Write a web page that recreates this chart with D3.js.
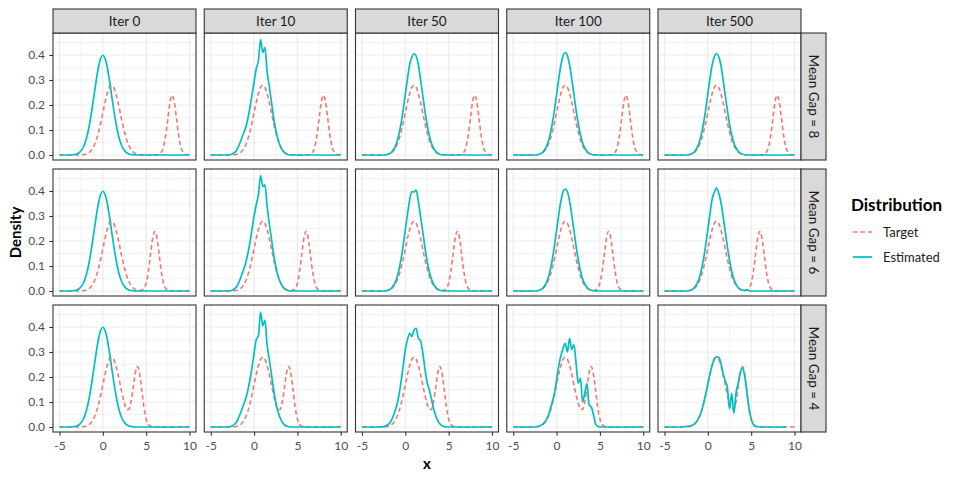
<!DOCTYPE html>
<html>
  <head>
    <meta charset="utf-8">
    <style type="text/css">
      body { margin: 0; background: #fff; }
      text { font-family: Lato, "Open Sans", sans-serif; }
    </style>
  </head>
  <body>
    <div id="chart"></div>
    <script src="https://d3js.org/d3.v7.min.js"></script>
    <script>
      // evaluation grid, x from -5 to 10 in steps of 0.25
      const xGrid = [
        -5, -4.75, -4.5, -4.25, -4, -3.75, -3.5, -3.25, -3, -2.75, -2.5, -2.25,
        -2, -1.75, -1.5, -1.25, -1, -0.75, -0.5, -0.25, 0, 0.25, 0.5, 0.75,
        1, 1.25, 1.5, 1.75, 2, 2.25, 2.5, 2.75, 3, 3.25, 3.5, 3.75,
        4, 4.25, 4.5, 4.75, 5, 5.25, 5.5, 5.75, 6, 6.25, 6.5, 6.75,
        7, 7.25, 7.5, 7.75, 8, 8.25, 8.5, 8.75, 9, 9.25, 9.5, 9.75, 10
      ];

      const iterLabels = ["Iter 0", "Iter 10", "Iter 50", "Iter 100", "Iter 500"];
      const gapLabels = ["Mean Gap = 8", "Mean Gap = 6", "Mean Gap = 4"];
      const seriesNames = ["Target", "Estimated"];
      const xTicks = [-5, 0, 5, 10];
      const yTicks = [0, 0.1, 0.2, 0.3, 0.4];

      // target densities (one per row)
      const targetGap8 = [
        0, 0, 0, 0,  0, 0, 0, 0,  0, 0, 0.001, 0.001,
        0.003, 0.006, 0.012, 0.022,  0.038, 0.060, 0.091, 0.128,
        0.169, 0.211, 0.246, 0.271,  0.279, 0.271, 0.246, 0.211,
        0.169, 0.128, 0.091, 0.060,  0.038, 0.022, 0.012, 0.006,
        0.003, 0.001, 0.001, 0,  0, 0, 0, 0,
        0, 0.001, 0.003, 0.011,  0.032, 0.078, 0.145, 0.211,
        0.239, 0.211, 0.145, 0.078,  0.032, 0.011, 0.003, 0.001,  0
      ];
      const targetGap6 = [
        0, 0, 0, 0,  0, 0, 0, 0,  0, 0, 0.001, 0.001,
        0.003, 0.006, 0.012, 0.022,  0.038, 0.060, 0.091, 0.128,
        0.169, 0.211, 0.246, 0.271,  0.279, 0.271, 0.246, 0.211,
        0.169, 0.128, 0.091, 0.060,  0.038, 0.022, 0.012, 0.006,
        0.003, 0.002, 0.004, 0.011,  0.032, 0.078, 0.145, 0.211,
        0.239, 0.211, 0.145, 0.078,  0.032, 0.011, 0.003, 0.001,
        0, 0, 0, 0,  0, 0, 0, 0,  0
      ];
      const targetGap4 = [
        0, 0, 0, 0,  0, 0, 0, 0,  0, 0, 0.001, 0.001,
        0.003, 0.006, 0.012, 0.022,  0.038, 0.060, 0.091, 0.128,
        0.169, 0.211, 0.246, 0.271,  0.279, 0.271, 0.246, 0.211,
        0.169, 0.129, 0.094, 0.071,  0.070, 0.100, 0.157, 0.217,
        0.242, 0.212, 0.146, 0.078,  0.032, 0.011, 0.003, 0.001,
        0, 0, 0, 0,  0, 0, 0, 0,  0, 0, 0, 0,  0, 0, 0, 0,  0
      ];

      // estimated densities
      const estIter0 = [
        0, 0, 0, 0,  0, 0, 0.001, 0.002,  0.004, 0.009, 0.018, 0.032,
        0.054, 0.086, 0.130, 0.183,  0.242, 0.301, 0.352, 0.387,
        0.399, 0.387, 0.352, 0.301,  0.242, 0.183, 0.130, 0.086,
        0.054, 0.032, 0.018, 0.009,  0.004, 0.002, 0.001, 0,
        0, 0, 0, 0,  0, 0, 0, 0,  0, 0, 0, 0,
        0, 0, 0, 0,  0, 0, 0, 0,  0, 0, 0, 0,  0
      ];
      const estGap8Iter10 = [
        0, 0, 0, 0,  0, 0, 0, 0,  0, 0.001, 0.005, 0.010,
        0.020, 0.038, 0.060, 0.084,  0.106, 0.140, 0.186, 0.238,
        0.292, 0.345, 0.378, 0.462,  0.410, 0.430, 0.335, 0.276,
        0.214, 0.150, 0.100, 0.064,  0.038, 0.020, 0.010, 0.004,
        0.001, 0, 0, 0,  0, 0, 0, 0,  0, 0, 0, 0,
        0, 0, 0, 0,  0, 0, 0, 0,  0, 0, 0, 0,  0
      ];
      const estGap8Iter50 = [
        0, 0, 0, 0,  0, 0, 0, 0,  0, 0, 0, 0.001,
        0.003, 0.007, 0.015, 0.028,  0.049, 0.081, 0.125, 0.180,
        0.243, 0.306, 0.362, 0.392,  0.405, 0.396, 0.362, 0.303,
        0.242, 0.178, 0.124, 0.080,  0.048, 0.028, 0.015, 0.007,
        0.003, 0.001, 0, 0,  0, 0, 0, 0,  0, 0, 0, 0,
        0, 0, 0, 0,  0, 0, 0, 0,  0, 0, 0, 0,  0
      ];
      const estGap8Iter100 = [
        0, 0, 0, 0,  0, 0, 0, 0,  0, 0, 0, 0.001,
        0.003, 0.007, 0.015, 0.028,  0.049, 0.081, 0.125, 0.179,
        0.242, 0.305, 0.360, 0.398,  0.410, 0.398, 0.360, 0.305,
        0.242, 0.179, 0.125, 0.081,  0.049, 0.028, 0.015, 0.007,
        0.003, 0.001, 0, 0,  0, 0, 0, 0,  0, 0, 0, 0,
        0, 0, 0, 0,  0, 0, 0, 0,  0, 0, 0, 0,  0
      ];
      const estGap8Iter500 = [
        0, 0, 0, 0,  0, 0, 0, 0,  0, 0, 0, 0.001,
        0.003, 0.007, 0.015, 0.029,  0.050, 0.082, 0.126, 0.181,
        0.245, 0.307, 0.361, 0.393,  0.406, 0.394, 0.361, 0.304,
        0.241, 0.180, 0.124, 0.081,  0.049, 0.028, 0.015, 0.007,
        0.003, 0.001, 0, 0,  0, 0, 0, 0,  0, 0, 0, 0,
        0, 0, 0, 0,  0, 0, 0, 0,  0, 0, 0, 0,  0
      ];
      const estGap6Iter10 = [
        0, 0, 0, 0,  0, 0, 0, 0,  0, 0.001, 0.004, 0.009,
        0.018, 0.035, 0.058, 0.082,  0.108, 0.145, 0.190, 0.245,
        0.300, 0.345, 0.385, 0.462,  0.418, 0.425, 0.340, 0.270,
        0.210, 0.148, 0.098, 0.062,  0.037, 0.020, 0.009, 0.004,
        0.001, 0, 0, 0,  0, 0, 0, 0,  0, 0, 0, 0,
        0, 0, 0, 0,  0, 0, 0, 0,  0, 0, 0, 0,  0
      ];
      const estGap6Iter50 = [
        0, 0, 0, 0,  0, 0, 0, 0,  0, 0, 0, 0.001,
        0.003, 0.007, 0.016, 0.029,  0.050, 0.082, 0.127, 0.182,
        0.246, 0.308, 0.365, 0.398,  0.396, 0.404, 0.358, 0.300,
        0.240, 0.177, 0.123, 0.080,  0.049, 0.028, 0.015, 0.007,
        0.003, 0.001, 0, 0,  0, 0, 0, 0,  0, 0, 0, 0,
        0, 0, 0, 0,  0, 0, 0, 0,  0, 0, 0, 0,  0
      ];
      const estGap6Iter100 = [
        0, 0, 0, 0,  0, 0, 0, 0,  0, 0, 0, 0.001,
        0.003, 0.007, 0.015, 0.028,  0.049, 0.081, 0.125, 0.180,
        0.243, 0.306, 0.361, 0.397,  0.408, 0.397, 0.360, 0.304,
        0.242, 0.179, 0.125, 0.081,  0.049, 0.028, 0.015, 0.007,
        0.003, 0.001, 0, 0,  0, 0, 0, 0,  0, 0, 0, 0,
        0, 0, 0, 0,  0, 0, 0, 0,  0, 0, 0, 0,  0
      ];
      const estGap6Iter500 = [
        0, 0, 0, 0,  0, 0, 0, 0,  0, 0, 0, 0.001,
        0.003, 0.007, 0.016, 0.030,  0.051, 0.083, 0.128, 0.183,
        0.246, 0.310, 0.368, 0.395,  0.412, 0.392, 0.356, 0.302,
        0.240, 0.178, 0.124, 0.080,  0.048, 0.027, 0.014, 0.007,
        0.004, 0.002, 0.005, 0.001,  0, 0, 0, 0,  0, 0, 0, 0,
        0, 0, 0, 0,  0, 0, 0, 0,  0, 0, 0, 0,  0
      ];
      const estGap4Iter10 = [
        0, 0, 0, 0,  0, 0, 0, 0,  0, 0.001, 0.005, 0.011,
        0.021, 0.040, 0.062, 0.086,  0.110, 0.142, 0.185, 0.236,
        0.295, 0.350, 0.365, 0.460,  0.405, 0.428, 0.330, 0.272,
        0.212, 0.150, 0.098, 0.063,  0.037, 0.019, 0.009, 0.004,
        0.001, 0, 0, 0,  0, 0, 0, 0,  0, 0, 0, 0,
        0, 0, 0, 0,  0, 0, 0, 0,  0, 0, 0, 0,  0
      ];
      const estGap4Iter50 = [
        0, 0, 0, 0,  0, 0, 0, 0,  0, 0, 0.002, 0.005,
        0.010, 0.018, 0.035, 0.058,  0.085, 0.125, 0.180, 0.245,
        0.310, 0.350, 0.375, 0.362,  0.388, 0.395, 0.355, 0.345,
        0.300, 0.235, 0.180, 0.150,  0.115, 0.075, 0.045, 0.025,
        0.012, 0.005, 0.002, 0,  0, 0, 0, 0,  0, 0, 0, 0,
        0, 0, 0, 0,  0, 0, 0, 0,  0, 0, 0, 0,  0
      ];
      const estGap4Iter100 = [
        0, 0, 0, 0,  0, 0, 0, 0,  0, 0, 0, 0.002,
        0.004, 0.008, 0.015, 0.025,  0.042, 0.068, 0.100, 0.135,
        0.190, 0.245, 0.285, 0.315,  0.335, 0.300, 0.355, 0.310,
        0.330, 0.255, 0.175, 0.195,  0.100, 0.135, 0.175, 0.088,
        0.080, 0.050, 0.012, 0.003,  0, 0, 0, 0,  0, 0, 0, 0,
        0, 0, 0, 0,  0, 0, 0, 0,  0, 0, 0, 0,  0
      ];
      const estGap4Iter500 = [
        0, 0, 0, 0,  0, 0, 0, 0,  0.001, 0.001, 0.002, 0.003,
        0.005, 0.008, 0.014, 0.024,  0.040, 0.062, 0.094, 0.131,
        0.172, 0.213, 0.248, 0.272,  0.281, 0.279, 0.258, 0.215,
        0.185, 0.158, 0.072, 0.135,  0.055, 0.135, 0.175, 0.218,
        0.238, 0.205, 0.140, 0.075,  0.032, 0.010, 0.003, 0.001,
        0, 0, 0, 0,  0, 0, 0, 0,  0, 0, 0, 0,  0
      ];

      const targets = [targetGap8, targetGap6, targetGap4];
      const estimates = [
        [estIter0, estGap8Iter10, estGap8Iter50, estGap8Iter100, estGap8Iter500],
        [estIter0, estGap6Iter10, estGap6Iter50, estGap6Iter100, estGap6Iter500],
        [estIter0, estGap4Iter10, estGap4Iter50, estGap4Iter100, estGap4Iter500]
      ];

      const colors = { Target: "#F8766D", Estimated: "#00BFC4" };

      const width = 959, height = 480;
      const marginLeft = 53, marginTop = 33;
      const panelW = 143, panelH = 127;
      const gapX = 8.25, gapY = 9;
      const stripH = 24, stripW = 25;

      const svg = d3.select("#chart").append("svg")
        .attr("width", width)
        .attr("height", height);

      const x = d3.scaleLinear().domain([-5.75, 10.75]).range([0, panelW]);
      const y = d3.scaleLinear().domain([-0.02, 0.488]).range([panelH, 0]);

      const line = d3.line()
        .x((d) => x(d[0]))
        .y((d) => y(d[1]))
        .curve(d3.curveMonotoneX);

      const xMinor = [-2.5, 2.5, 7.5];
      const yMinor = [0.05, 0.15, 0.25, 0.35, 0.45];

      gapLabels.forEach((gapLabel, r) => {
        iterLabels.forEach((iterLabel, c) => {
          const g = svg.append("g")
            .attr("transform", `translate(${marginLeft + c * (panelW + gapX)},${marginTop + r * (panelH + gapY)})`);

          g.append("rect")
            .attr("width", panelW)
            .attr("height", panelH)
            .attr("fill", "#fff");

          // grid
          g.selectAll(".vminor").data(xMinor).enter().append("line")
            .attr("x1", (d) => x(d)).attr("x2", (d) => x(d))
            .attr("y1", 0).attr("y2", panelH)
            .attr("stroke", "#EBEBEB").attr("stroke-width", 0.6);
          g.selectAll(".hminor").data(yMinor).enter().append("line")
            .attr("x1", 0).attr("x2", panelW)
            .attr("y1", (d) => y(d)).attr("y2", (d) => y(d))
            .attr("stroke", "#EBEBEB").attr("stroke-width", 0.6);
          g.selectAll(".vmajor").data(xTicks).enter().append("line")
            .attr("x1", (d) => x(d)).attr("x2", (d) => x(d))
            .attr("y1", 0).attr("y2", panelH)
            .attr("stroke", "#EBEBEB").attr("stroke-width", 1.2);
          g.selectAll(".hmajor").data(yTicks).enter().append("line")
            .attr("x1", 0).attr("x2", panelW)
            .attr("y1", (d) => y(d)).attr("y2", (d) => y(d))
            .attr("stroke", "#EBEBEB").attr("stroke-width", 1.2);

          const targetPts = xGrid.map((v, i) => [v, targets[r][i]]);
          const estPts = xGrid.map((v, i) => [v, estimates[r][c][i]]);

          g.append("path")
            .datum(targetPts)
            .attr("d", line)
            .attr("fill", "none")
            .attr("stroke", colors.Target)
            .attr("stroke-width", 1.6)
            .attr("stroke-dasharray", "4.5,3");

          g.append("path")
            .datum(estPts)
            .attr("d", line)
            .attr("fill", "none")
            .attr("stroke", colors.Estimated)
            .attr("stroke-width", 1.7);

          g.append("rect")
            .attr("width", panelW)
            .attr("height", panelH)
            .attr("fill", "none")
            .attr("stroke", "#333")
            .attr("stroke-width", 1.1);

          if (r === 0) {
            g.append("rect")
              .attr("y", -stripH)
              .attr("width", panelW)
              .attr("height", stripH)
              .attr("fill", "#D9D9D9")
              .attr("stroke", "#333")
              .attr("stroke-width", 1.1);
            g.append("text")
              .attr("x", panelW / 2)
              .attr("y", -stripH / 2)
              .attr("dy", "0.35em")
              .attr("text-anchor", "middle")
              .attr("font-size", "13.5px")
              .attr("fill", "#1A1A1A")
              .text(iterLabel);
          }

          if (c === iterLabels.length - 1) {
            g.append("rect")
              .attr("x", panelW)
              .attr("width", stripW)
              .attr("height", panelH)
              .attr("fill", "#D9D9D9")
              .attr("stroke", "#333")
              .attr("stroke-width", 1.1);
            g.append("text")
              .attr("transform", `translate(${panelW + stripW / 2},${panelH / 2}) rotate(90)`)
              .attr("dy", "0.35em")
              .attr("text-anchor", "middle")
              .attr("font-size", "13.5px")
              .attr("fill", "#1A1A1A")
              .text(gapLabel);
          }

          if (c === 0) {
            const ax = g.append("g")
              .call(d3.axisLeft(y).tickValues(yTicks).tickSize(3.7).tickPadding(4.3)
                .tickFormat(d3.format(".1f")));
            ax.select(".domain").remove();
            ax.selectAll("line").attr("stroke", "#333").attr("stroke-width", 1.1);
            ax.selectAll("text").attr("fill", "#4D4D4D").attr("font-size", "12px")
              .style("font-family", "Lato, sans-serif");
          }

          if (r === gapLabels.length - 1) {
            const ax = g.append("g")
              .attr("transform", `translate(0,${panelH})`)
              .call(d3.axisBottom(x).tickValues(xTicks).tickSize(3.7).tickPadding(6)
                .tickFormat((d) => String(d)));
            ax.select(".domain").remove();
            ax.selectAll("line").attr("stroke", "#333").attr("stroke-width", 1.1);
            ax.selectAll("text").attr("fill", "#4D4D4D").attr("font-size", "12px")
              .style("font-family", "Lato, sans-serif");
          }
        });
      });

      // axis titles
      const panelsRight = marginLeft + iterLabels.length * panelW + (iterLabels.length - 1) * gapX;
      const panelsBottom = marginTop + gapLabels.length * panelH + (gapLabels.length - 1) * gapY;
      svg.append("text")
        .attr("x", (marginLeft + panelsRight) / 2)
        .attr("y", 469)
        .attr("text-anchor", "middle")
        .attr("font-size", "15px")
        .attr("font-weight", "bold")
        .attr("fill", "#000")
        .text("x");
      svg.append("text")
        .attr("transform", `translate(21,${(marginTop + panelsBottom) / 2}) rotate(-90)`)
        .attr("text-anchor", "middle")
        .attr("font-size", "15px")
        .attr("font-weight", "bold")
        .attr("fill", "#000")
        .text("Density");

      // legend
      const legend = svg.append("g").attr("transform", "translate(851,0)");
      legend.append("text")
        .attr("x", 0)
        .attr("y", 211)
        .attr("font-size", "17px")
        .attr("font-weight", "bold")
        .attr("fill", "#000")
        .text("Distribution");
      seriesNames.forEach((name, i) => {
        const yy = 232 + i * 25;
        legend.append("line")
          .attr("x1", 2).attr("x2", 21)
          .attr("y1", yy).attr("y2", yy)
          .attr("stroke", colors[name])
          .attr("stroke-width", name === "Target" ? 1.6 : 1.7)
          .attr("stroke-dasharray", name === "Target" ? "4.5,3" : null);
        legend.append("text")
          .attr("x", 32)
          .attr("y", yy)
          .attr("dy", "0.35em")
          .attr("font-size", "13px")
          .attr("fill", "#1A1A1A")
          .text(name);
      });
    </script>
  </body>
</html>
